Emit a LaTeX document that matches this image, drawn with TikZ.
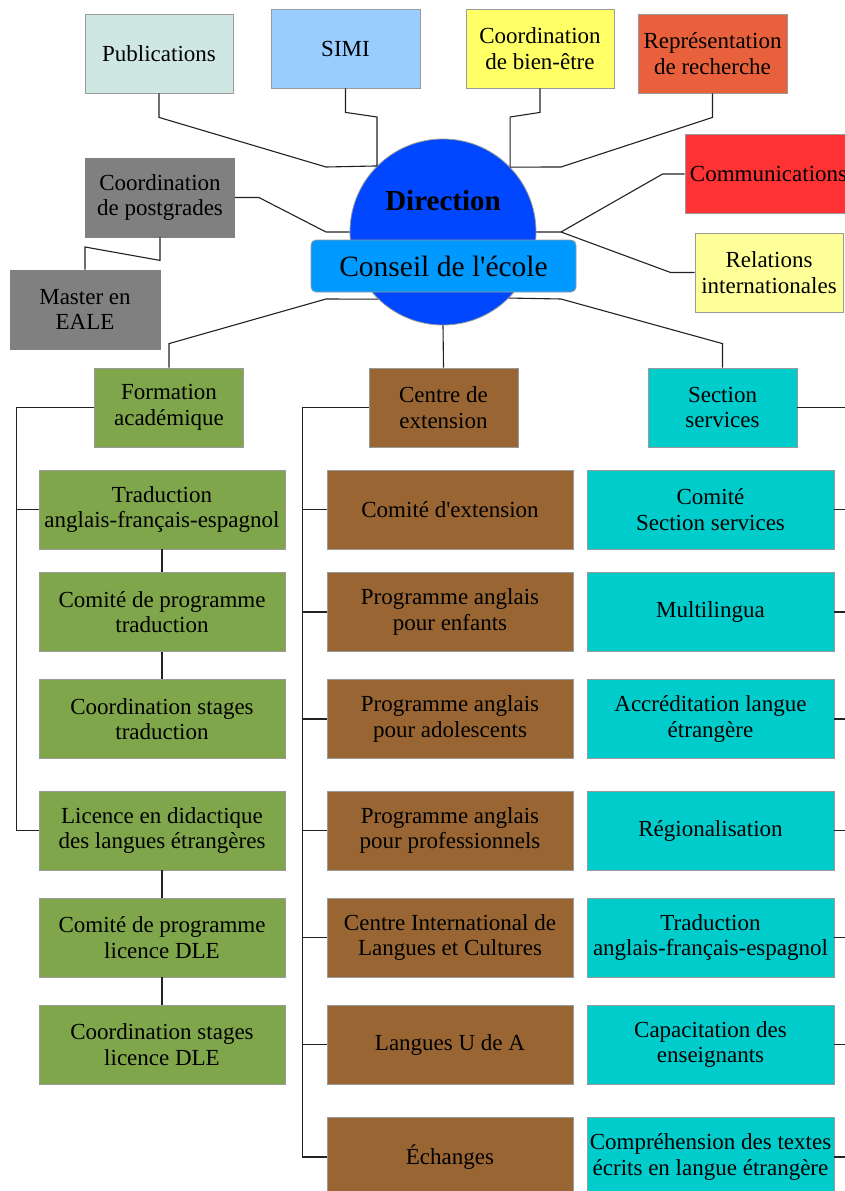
\documentclass[tikz,border=0pt]{standalone}
\usepackage{fontspec}
\setmainfont{Liberation Serif}
\definecolor{cPub}{HTML}{CFE7E3}
\definecolor{cSimi}{HTML}{99CCFF}
\definecolor{cBien}{HTML}{FFFF66}
\definecolor{cRep}{HTML}{E8613C}
\definecolor{cComm}{HTML}{FF3333}
\definecolor{cRel}{HTML}{FFFF99}
\definecolor{cGray}{HTML}{808080}
\definecolor{cDir}{HTML}{0047FF}
\definecolor{cCons}{HTML}{0099FF}
\definecolor{cGreen}{HTML}{7FA64A}
\definecolor{cBrown}{HTML}{996633}
\definecolor{cCyan}{HTML}{00CCCC}
\definecolor{bordc}{HTML}{9A9A9A}
\definecolor{linec}{HTML}{222222}
\begin{document}
\begin{tikzpicture}[x=1pt,y=-1pt,
  box/.style={draw=bordc, line width=0.8pt, rectangle, inner sep=0pt, align=center,
              font=\fontsize{23}{25.5}\selectfont, text=black},
  smallbox/.style={box, minimum width=148pt, minimum height=79pt},
  widebox/.style={box, minimum width=246pt, minimum height=79pt},
  conn/.style={draw=linec, line width=1.1pt, line join=miter}]
\useasboundingbox (0,0) rectangle (845,1191);
\clip (0,0) rectangle (845,1191);
\fill[white] (0,0) rectangle (845,1191);

% top boxes
\node[smallbox, fill=cPub] (pub) at (159,53.5) {Publications};
\node[smallbox, fill=cSimi, minimum width=149pt] (simi) at (345.5,48.5) {SIMI};
\node[smallbox, fill=cBien] (bien) at (540,48.5) {Coordination\\de bien-être};
\node[smallbox, fill=cRep, minimum width=149pt] (rep) at (712.5,53.5) {Représentation\\de recherche};
\node[smallbox, fill=cComm, minimum width=167pt] (comm) at (768.5,174) {Communications};
\node[smallbox, fill=cRel] (rel) at (769,272.5) {Relations\\internationales};
\node[smallbox, fill=cGray, draw=cGray, minimum width=149pt] (postg) at (160,197.5) {Coordination\\de postgrades};
\node[smallbox, fill=cGray, draw=cGray, minimum width=150pt] (master) at (85,309.5) {Master en\\EALE};

% centre
\node[circle, draw=bordc, line width=0.8pt, fill=cDir, minimum size=186pt, inner sep=0pt] (dir) at (443,232) {};
\node[anchor=base, inner sep=0pt, font=\bfseries\fontsize{29}{32}\selectfont] (dirtxt) at (443,210) {Direction};
\node[box, rounded corners=5pt, fill=cCons, minimum width=265pt, minimum height=52pt,
      font=\fontsize{29.5}{32}\selectfont] (cons) at (443.5,266) {Conseil de l\textquotesingle école};

% second level
\node[smallbox, fill=cGreen, minimum width=149pt] (form) at (169,407.5) {Formation\\académique};
\node[smallbox, fill=cBrown, minimum width=149pt] (ext) at (443.5,407.5) {Centre de\\extension};
\node[smallbox, fill=cCyan, minimum width=149pt] (serv) at (722.5,407.5) {Section\\services};

% green column
\node[widebox, fill=cGreen] (g1) at (162,509.5) {Traduction\\anglais-français-espagnol};
\node[widebox, fill=cGreen] (g2) at (162,612) {Comité de programme\\traduction};
\node[widebox, fill=cGreen] (g3) at (162,719) {Coordination stages\\traduction};
\node[widebox, fill=cGreen] (g4) at (162,830.5) {Licence en didactique\\des langues étrangères};
\node[widebox, fill=cGreen] (g5) at (162,937.5) {Comité de programme\\licence DLE};
\node[widebox, fill=cGreen] (g6) at (162,1044.5) {Coordination stages\\licence DLE};

% brown column
\node[widebox, fill=cBrown] (b1) at (450,509.5) {Comité d\textquotesingle extension};
\node[widebox, fill=cBrown] (b2) at (450,612) {Programme anglais\\pour enfants};
\node[widebox, fill=cBrown] (b3) at (450,719) {Programme anglais\\pour adolescents};
\node[widebox, fill=cBrown] (b4) at (450,830.5) {Programme anglais\\pour professionnels};
\node[widebox, fill=cBrown] (b5) at (450,937.5) {Centre International de\\Langues et Cultures};
\node[widebox, fill=cBrown] (b6) at (450,1044.5) {Langues U de A};
\node[widebox, fill=cBrown] (b7) at (450,1157) {Échanges};

% cyan column
\node[widebox, fill=cCyan, minimum width=247pt] (c1) at (710.5,509.5) {Comité\\Section services};
\node[widebox, fill=cCyan, minimum width=247pt] (c2) at (710.5,612) {Multilingua};
\node[widebox, fill=cCyan, minimum width=247pt] (c3) at (710.5,719) {Accréditation langue\\étrangère};
\node[widebox, fill=cCyan, minimum width=247pt] (c4) at (710.5,830.5) {Régionalisation};
\node[widebox, fill=cCyan, minimum width=247pt] (c5) at (710.5,937.5) {Traduction\\anglais-français-espagnol};
\node[widebox, fill=cCyan, minimum width=247pt] (c6) at (710.5,1044.5) {Capacitation des\\enseignants};
\node[widebox, fill=cCyan, minimum width=247pt] (c7) at (710.5,1157) {Compréhension des textes\\écrits en langue étrangère};

% connectors to the centre
\draw[conn] (pub.south) -- ++(0,24) -- (326,167) -- (dir.135.5);
\draw[conn] (simi.south) -- ++(0,24) -- (dir.135.5 |- 0,117) -- (dir.135.5);
\draw[conn] (bien.south) -- ++(0,24) -- (dir.44.5 |- 0,117) -- (dir.44.5);
\draw[conn] (rep.south) -- ++(0,24) -- (561,167) -- (dir.44.5);
\draw[conn] (comm.west) -- ++(-22,0) -- (561,232) -- (dir.east);
\draw[conn] (rel.west) -- ++(-24,0) -- (561,232);
\draw[conn] (postg.east) -- ++(24,0) -- (326,232) -- (dir.west);
\draw[conn] (postg.south) -- ++(0,23) -- (master.north |- 0,247) -- (master.north);
\draw[conn] (form.north) -- ++(0,-24) -- (326,299) -- (dir.-134.5);
\draw[conn] (serv.north) -- ++(0,-24) -- (561,299) -- (dir.-45.5);
\draw[conn] (dir.south) -- (ext.north);

% green spine
\draw[conn] (form.west) -- ++(-78,0) |- (g4.west);
\draw[conn] (g1.west) -- ++(-23,0);
\draw[conn] (g1.south) -- (g2.north);
\draw[conn] (g2.south) -- (g3.north);
\draw[conn] (g4.south) -- (g5.north);
\draw[conn] (g5.south) -- (g6.north);

% brown spine
\draw[conn] (ext.west) -- ++(-66,0) |- (b7.west);
\foreach \k in {1,...,6}{\draw[conn] (b\k.west) -- ++(-24,0);}

% cyan spine
\draw[conn] (serv.east) -- ++(60,0) |- (c7.east);
\foreach \k in {1,...,6}{\draw[conn] (c\k.east) -- ++(25,0);}
\end{tikzpicture}
\end{document}
